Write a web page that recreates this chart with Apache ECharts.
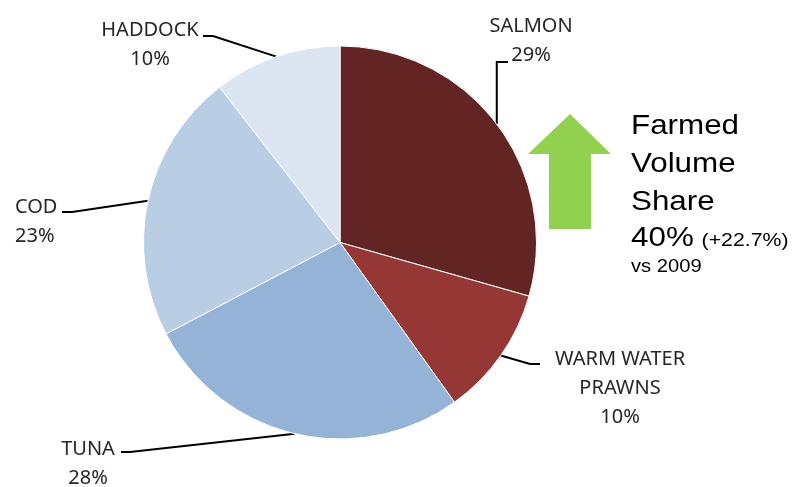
<!DOCTYPE html>
<html>
<head>
<meta charset="utf-8">
<script src="https://cdn.jsdelivr.net/npm/echarts@6/dist/echarts.min.js"></script>
<style>html,body{margin:0;padding:0;background:#fff;}#c{width:800px;height:487px;}</style>
</head>
<body>
<div id="c"></div>
<script>
// ---- data ----
const categories = ['SALMON', 'WARM WATER\nPRAWNS', 'TUNA', 'COD', 'HADDOCK'];
const shares = [29.4, 10.7, 27.2, 22.2, 10.5];          // slice sizes
const labelPct = ['29%', '10%', '28%', '23%', '10%'];    // printed labels
const farmedShare = '40%';
const farmedChange = '(+22.7%)';
const farmedNote = 'vs 2009';

// ---- styling / layout ----
const colors = ['#632523', '#953735', '#95B3D7', '#B9CDE5', '#DCE6F2'];
const labelAnchors = [
  { x: 531, y: 41, align: 'center', bendY: 62, endX: 508 },
  { x: 620, y: 388, align: 'center', mid: [530, 364], end: [540, 364] },
  { x: 88, y: 464, align: 'center', mid: [130, 452], end: [121, 452] },
  { x: 15, y: 222, align: 'left', mid: [72, 212], end: [62, 212] },
  { x: 150, y: 45, align: 'center', mid: [213, 36], end: [203, 36] }
];

const chart = echarts.init(document.getElementById('c'), null, { renderer: 'canvas' });

const pieData = categories.map((name, i) => ({
  name: name,
  value: shares[i],
  itemStyle: { color: colors[i] }
}));

const option = {
  animation: false,
  backgroundColor: '#fff',
  series: [{
    type: 'pie',
    center: [340, 242.5],
    radius: 196.5,
    startAngle: 90,
    clockwise: true,
    avoidLabelOverlap: false,
    itemStyle: { borderColor: '#fff', borderWidth: 1 },
    emphasis: { disabled: true },
    label: {
      show: true,
      position: 'outside',
      fontFamily: 'Noto Sans',
      fontSize: 20,
      lineHeight: 29,
      color: '#262626',
      formatter: p => p.name + '\n' + labelPct[p.dataIndex]
    },
    labelLine: {
      show: true,
      length: 10,
      length2: 10,
      smooth: false,
      lineStyle: { color: '#000', width: 2 }
    },
    labelLayout: function (p) {
      const L = labelAnchors[p.dataIndex];
      const res = { x: L.x, y: L.y, align: L.align, verticalAlign: 'middle' };
      if (p.labelLinePoints) {
        const s = p.labelLinePoints[0];
        if (L.bendY !== undefined) {
          res.labelLinePoints = [[s[0], s[1]], [s[0], L.bendY], [L.endX, L.bendY]];
        } else {
          res.labelLinePoints = [[s[0], s[1]], L.mid, L.end];
        }
      }
      return res;
    },
    data: pieData
  }],
  graphic: [
    {
      type: 'polygon',
      shape: { points: [[570, 114], [611, 154], [591, 154], [591, 229], [549, 229], [549, 154], [528, 154]] },
      style: { fill: '#92D050' },
      silent: true
    },
    {
      type: 'group',
      x: 631, y: 0,
      scaleX: 1.12, scaleY: 1,
      silent: true,
      children: [
        { type: 'text', x: 0, y: 126.5, style: { text: 'Farmed', font: '28px "Liberation Sans", Arial, sans-serif', fill: '#000', verticalAlign: 'middle', align: 'left' } },
        { type: 'text', x: 0, y: 164, style: { text: 'Volume', font: '28px "Liberation Sans", Arial, sans-serif', fill: '#000', verticalAlign: 'middle', align: 'left' } },
        { type: 'text', x: 0, y: 202, style: { text: 'Share', font: '28px "Liberation Sans", Arial, sans-serif', fill: '#000', verticalAlign: 'middle', align: 'left' } },
        { type: 'text', x: 0, y: 238.5, style: { text: farmedShare, font: '28px "Liberation Sans", Arial, sans-serif', fill: '#000', verticalAlign: 'middle', align: 'left' } },
        { type: 'text', x: 63, y: 241, style: { text: farmedChange, font: '19px "Liberation Sans", Arial, sans-serif', fill: '#000', verticalAlign: 'middle', align: 'left' } },
        { type: 'text', x: 0, y: 267, style: { text: farmedNote, font: '18px "Liberation Sans", Arial, sans-serif', fill: '#000', verticalAlign: 'middle', align: 'left' } }
      ]
    }
  ]
};

chart.setOption(option);
</script>
</body>
</html>
